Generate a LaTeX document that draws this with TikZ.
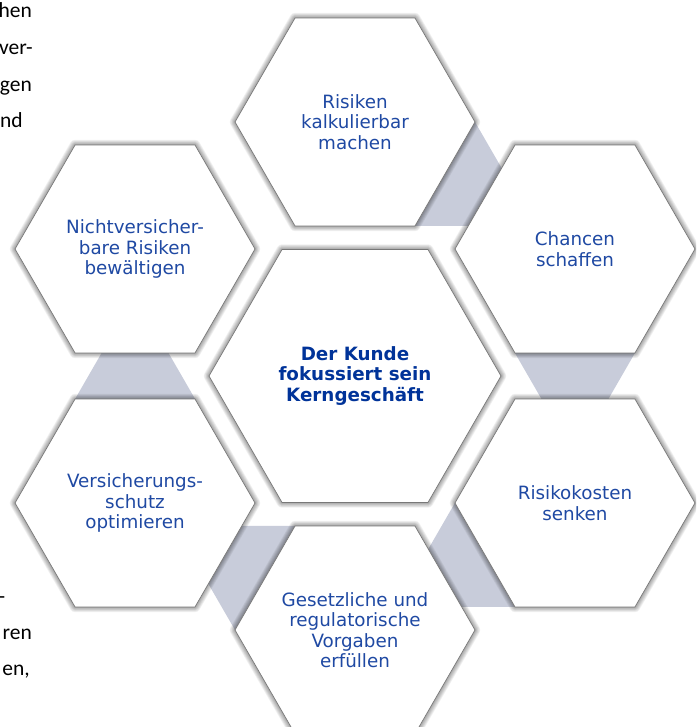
\documentclass[tikz,border=0pt]{standalone}
\usepackage{fontspec}
\setmainfont{DejaVu Sans}
\newfontfamily\bodyfont{Carlito}
\usetikzlibrary{calc}
\definecolor{hexblue}{RGB}{31,73,163}
\definecolor{coreblue}{RGB}{0,51,153}
\definecolor{bandgray}{RGB}{200,204,218}
\definecolor{hexline}{RGB}{120,120,120}
\tikzset{
  hexshape/.style={fill=white, draw=hexline, line width=0.7pt, line join=miter},
  hexglow/.style={draw=black, draw opacity=0.055, line join=round, yshift=1.2pt},
  hexlabel/.style={align=center, text=hexblue, font=\fontsize{18.3}{20.5}\selectfont, inner sep=0pt},
  corelabel/.style={hexlabel, text=coreblue, font=\bfseries\fontsize{18.3}{20.5}\selectfont},
  band/.style={fill=bandgray},
  bodytext/.style={anchor=base east, inner sep=0pt, font=\bodyfont\fontsize{21.5}{25}\selectfont, text=black}
}
\newcommand\hexoutline[1]{(0:#1pt) -- (60:#1pt) -- (120:#1pt) -- (180:#1pt) -- (240:#1pt) -- (300:#1pt) -- cycle}
\begin{document}
\begin{tikzpicture}[x=1pt,y=1pt]
\clip (0,0) rectangle (696,727);
\fill[white] (0,0) rectangle (696,727);
\coordinate (C) at (355,351);
\coordinate (cT)  at ($(C)+(90:254pt)$);
\coordinate (cUR) at ($(C)+(30:254pt)$);
\coordinate (cLR) at ($(C)+(-30:254pt)$);
\coordinate (cB)  at ($(C)+(-90:254pt)$);
\coordinate (cLL) at ($(C)+(-150:254pt)$);
\coordinate (cUL) at ($(C)+(150:254pt)$);
% grey bands between neighbouring hexagons
\foreach \a in {0,60,120,180,240}
  \fill[band, shift={(C)}, rotate=-\a] (120,254) -- (146.7,207.8) -- (113.3,150) -- (60,150) -- cycle;
% soft shadows
\foreach \n/\r in {cT/120, cUR/120, cLR/120, cB/120, cLL/120, cUL/120, C/146}
  \foreach \w in {1.5,3,4.5,6,7.5,9,10.5}
    \draw[hexglow, line width=\w pt, shift={(\n)}] \hexoutline{\r};
% hexagons
\foreach \n/\r in {cT/120, cUR/120, cLR/120, cB/120, cLL/120, cUL/120, C/146}
  \draw[hexshape, shift={(\n)}] \hexoutline{\r};
% labels
\node[hexlabel] (t1) at (cT) {Risiken\\kalkulierbar\\machen};
\node[hexlabel] (t2) at (cUR) {Chancen\\schaffen};
\node[hexlabel] (t3) at (cLR) {Risikokosten\\senken};
\node[hexlabel] (t4) at (cB) {Gesetzliche und\\regulatorische\\Vorgaben\\erfüllen};
\node[hexlabel] (t5) at (cLL) {Versicherungs-\\schutz\\optimieren};
\node[hexlabel] (t6) at (cUL) {Nichtversicher-\\bare Risiken\\bewältigen};
\node[corelabel] (t0) at (C) {Der Kunde\\fokussiert sein\\Kerngeschäft};
% cut-off body text at the left margin
\node[bodytext] (b1) at (32,709) {hen};
\node[bodytext] (b2) at (33,672) {ver-};
\node[bodytext] (b3) at (32,635.5) {gen};
\node[bodytext] (b4) at (23,599) {nd};
\node[bodytext] (b5) at (5.5,123) {-};
\node[bodytext] (b6) at (32,87) {ren};
\node[bodytext] (b7) at (30,51) {en,};
\end{tikzpicture}
\end{document}
